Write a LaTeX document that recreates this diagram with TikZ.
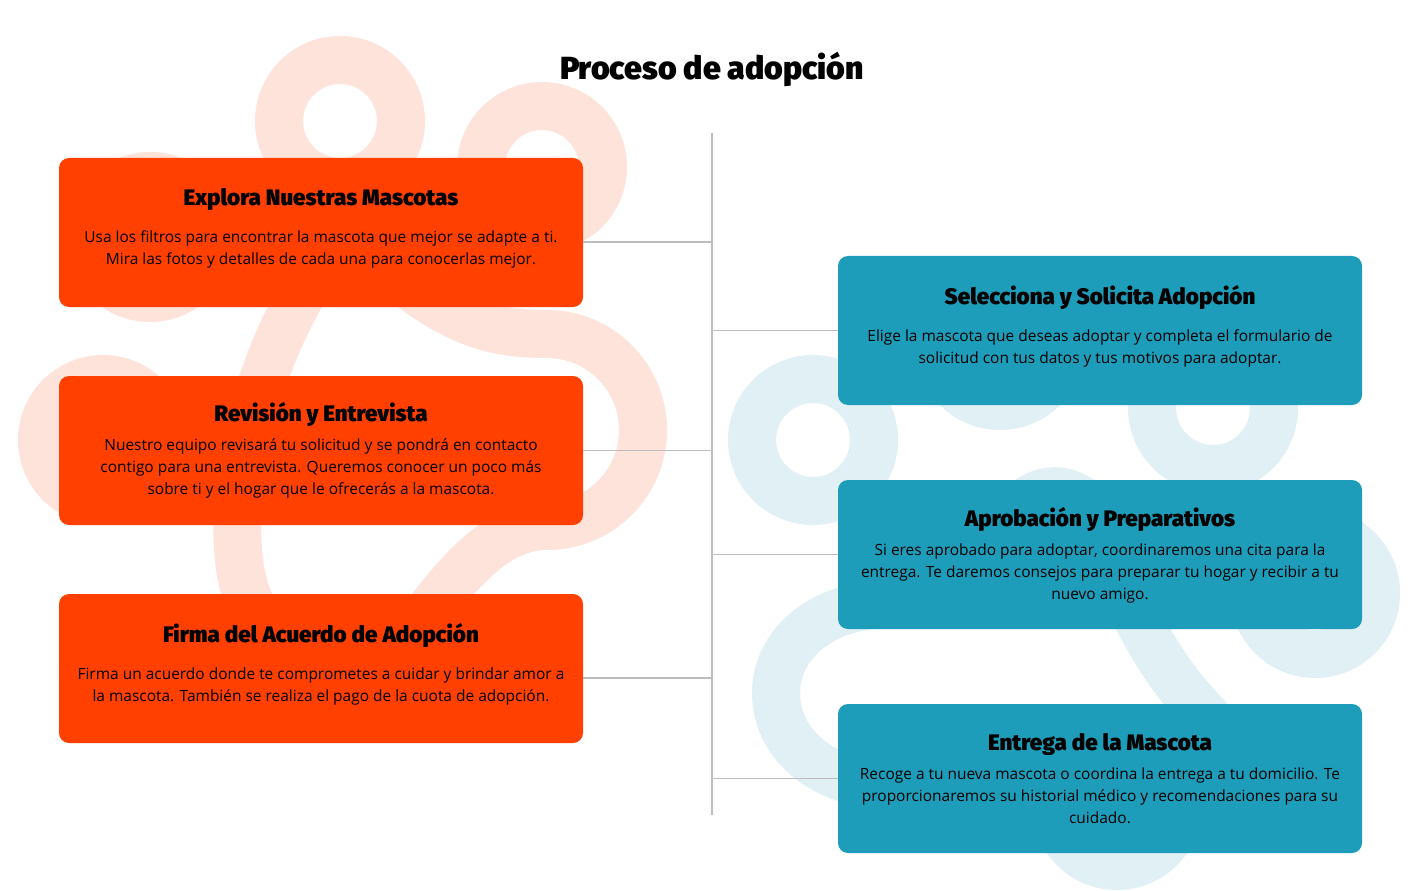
\documentclass[tikz,border=0pt]{standalone}
\usepackage{fontspec}
\setmainfont{Open Sans}
\newfontfamily\headfont{Fira Sans Black}
\usetikzlibrary{positioning,calc}
\definecolor{cardorange}{HTML}{FF4000}
\definecolor{cardteal}{HTML}{1E9DBA}
\definecolor{swirlpeach}{HTML}{FEE3DB}
\definecolor{swirlblue}{HTML}{E0F0F5}
\definecolor{linkgray}{HTML}{BDBDBD}
\tikzset{
  card/.style={rounded corners=7.5pt, minimum width=393pt, minimum height=111.75pt, inner sep=0pt},
  left card/.style={card, fill=cardorange},
  right card/.style={card, fill=cardteal},
  card text/.style={align=center, text=black, inner sep=0pt, font=\fontsize{11.6}{16.5}\selectfont},
  peach swirl/.style={draw=swirlpeach, line width=36pt},
  blue swirl/.style={draw=swirlblue, line width=36pt},
  link/.style={draw=linkgray, line width=1.1pt},
}
\newcommand{\cardtitle}[1]{{\headfont\fontsize{16.8}{20}\selectfont #1}}

\begin{document}
\begin{tikzpicture}[x=0.75pt, y=-0.75pt]
  \fill[white] (0,0) rectangle (1416,891);
  \useasboundingbox (0,0) rectangle (1416,891);

  % Background swirls, left
  \draw[peach swirl] (340,121) circle[radius=61];
  \draw[peach swirl] (542,167) circle[radius=61];
  \draw[peach swirl] (150,237) circle[radius=61];
  \draw[peach swirl] (103,440) circle[radius=61];
  \draw[peach swirl] (340,240) .. controls (270,320) and (228,460) .. (239,560)
    .. controls (245,620) and (280,650) .. (330,690);
  \draw[peach swirl] (380,262) .. controls (450,322) and (490,334) .. (547,334)
    .. controls (600,334) and (643,377) .. (643,430)
    .. controls (643,483) and (600,526) .. (547,526)
    .. controls (500,526) and (465,565) .. (430,610);

  % Background swirls, right
  \draw[blue swirl] (813,440) circle[radius=61];
  \draw[blue swirl] (1000,345) circle[radius=61];
  \draw[blue swirl] (1213,408) circle[radius=61];
  \draw[blue swirl] (1117,805) circle[radius=61];
  \draw[blue swirl] (1315,593) circle[radius=61];
  \draw[blue swirl] (905,605) .. controls (830,598) and (776,640) .. (776,693)
    .. controls (776,748) and (830,790) .. (905,785);
  \draw[blue swirl] (990,620) .. controls (985,460) and (1100,460) .. (1110,560)
    .. controls (1130,600) and (1150,660) .. (1210,720);

  % Title
  \node[font=\headfont\fontsize{24}{28}\selectfont] (title) at (712,69) {Proceso de adopción};

  % Spine
  \coordinate (spine top) at (712,133);
  \coordinate (spine bottom) at (712,815);
  \draw[link] (spine top) -- (spine bottom);

  % Left steps
  \node[left card] (explora) at (321,232.5) {};
  \node[card text] (explora text) at ($(explora)+(0,-4)$) {\cardtitle{Explora Nuestras Mascotas}\\[11.25pt]
    Usa los filtros para encontrar la mascota que mejor se adapte a ti.\\
    Mira las fotos y detalles de cada una para conocerlas mejor.};
  \node[left card] (revision) at (321,450.5) {};
  \node[card text] (revision text) at (revision) {\cardtitle{Revisión y Entrevista}\\[5.5pt]
    Nuestro equipo revisará tu solicitud y se pondrá en contacto\\
    contigo para una entrevista. Queremos conocer un poco más\\
    sobre ti y el hogar que le ofrecerás a la mascota.};
  \node[left card] (firma) at (321,668.5) {};
  \node[card text] (firma text) at ($(firma)+(0,-4)$) {\cardtitle{Firma del Acuerdo de Adopción}\\[11.25pt]
    Firma un acuerdo donde te comprometes a cuidar y brindar amor a\\
    la mascota. También se realiza el pago de la cuota de adopción.};

  % Right steps
  \node[right card] (selecciona) at (1100,330.5) {};
  \node[card text] (selecciona text) at ($(selecciona)+(0,-4)$) {\cardtitle{Selecciona y Solicita Adopción}\\[11.25pt]
    Elige la mascota que deseas adoptar y completa el formulario de\\
    solicitud con tus datos y tus motivos para adoptar.};
  \node[right card] (aprobacion) at (1100,554.5) {};
  \node[card text] (aprobacion text) at ($(aprobacion)+(0,1)$) {\cardtitle{Aprobación y Preparativos}\\[5.5pt]
    Si eres aprobado para adoptar, coordinaremos una cita para la\\
    entrega. Te daremos consejos para preparar tu hogar y recibir a tu\\
    nuevo amigo.};
  \node[right card] (entrega) at (1100,778.5) {};
  \node[card text] (entrega text) at (entrega) {\cardtitle{Entrega de la Mascota}\\[5.5pt]
    Recoge a tu nueva mascota o coordina la entrega a tu domicilio. Te\\
    proporcionaremos su historial médico y recomendaciones para su\\
    cuidado.};

  % Links to the spine
  \draw[link] ($(explora.east)+(0,9.5)$) -- ($(explora.east -| spine top)+(0,9.5)$);
  \draw[link] (revision.east) -- (revision.east -| spine top);
  \draw[link] ($(firma.east)+(0,9.5)$) -- ($(firma.east -| spine top)+(0,9.5)$);
  \draw[link] (selecciona.west -| spine top) -- (selecciona.west);
  \draw[link] (aprobacion.west -| spine top) -- (aprobacion.west);
  \draw[link] (entrega.west -| spine top) -- (entrega.west);
\end{tikzpicture}
\end{document}
